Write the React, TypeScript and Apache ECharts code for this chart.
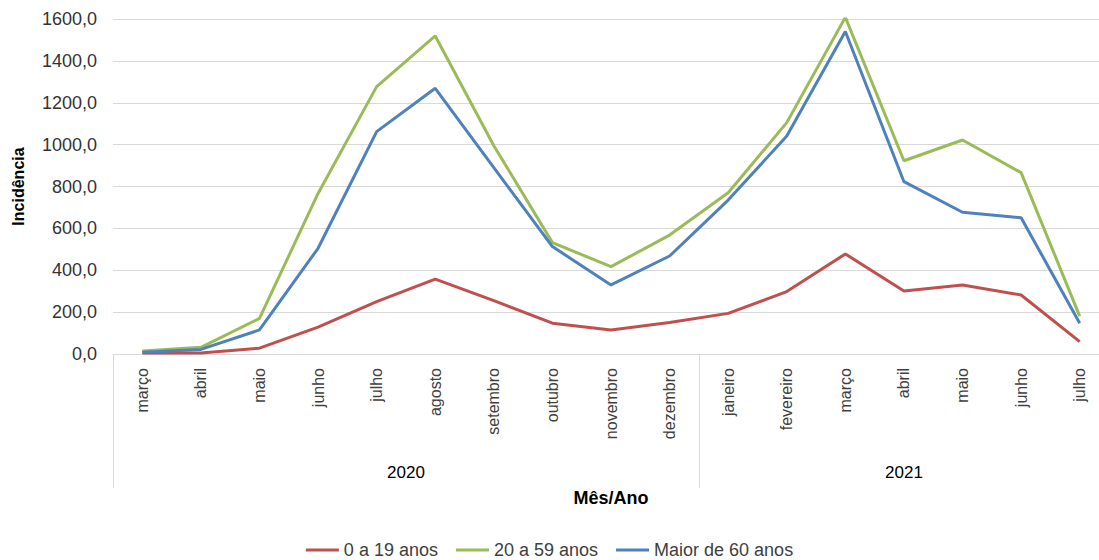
import React, { useEffect, useRef } from "react";
import * as echarts from "echarts";

const months = [
  "março", "abril", "maio", "junho", "julho", "agosto", "setembro", "outubro",
  "novembro", "dezembro", "janeiro", "fevereiro", "março", "abril", "maio", "junho", "julho",
];
const years = [
  { label: "2020", from: 0, to: 9 },
  { label: "2021", from: 10, to: 16 },
];
const seriesNames = ["0 a 19 anos", "20 a 59 anos", "Maior de 60 anos"];
const age0to19 = [5, 5, 28, 128, 250, 358, 255, 147, 115, 150, 194, 298, 478, 301, 330, 282, 59];
const age20to59 = [14, 32, 170, 767, 1277, 1519, 995, 532, 417, 568, 770, 1105, 1608, 923, 1022, 866, 181];
const age60plus = [8, 22, 115, 505, 1062, 1269, 890, 513, 330, 468, 735, 1041, 1540, 823, 677, 651, 147];
const colors = ["#C0504D", "#9BBB59", "#4F81BD"];

const FONT = "'Liberation Sans', Arial, sans-serif";

export default function App() {
  const ref = useRef<HTMLDivElement>(null);
  useEffect(() => {
    if (!ref.current) return;
    const chart = echarts.init(ref.current, null, { renderer: "svg" });
    const data = [age0to19, age20to59, age60plus];
    chart.setOption({
      animation: false,
      color: colors,
      textStyle: { fontFamily: FONT },
      grid: {
        left: 113,
        right: -10,
        top: 19,
        bottom: 206,
        containLabel: false,
        outerBoundsMode: "none",
      },
      legend: {
        bottom: -4,
        left: "center",
        icon: "rect",
        itemWidth: 33,
        itemHeight: 3,
        itemGap: 18,
        textStyle: { fontFamily: FONT, fontSize: 18, color: "#404040" },
        data: seriesNames,
      },
      xAxis: {
        type: "category",
        data: months,
        boundaryGap: true,
        name: "Mês/Ano",
        nameLocation: "middle",
        nameGap: 135,
        nameTextStyle: { fontFamily: FONT, fontSize: 18, fontWeight: "bold", color: "#000" },
        axisLine: { show: true, lineStyle: { color: "#D9D9D9", width: 1 } },
        axisTick: {
          show: true,
          interval: (i: number) => i === 0 || i === 10,
          length: 134,
          lineStyle: { color: "#D9D9D9", width: 1 },
        },
        axisLabel: {
          rotate: 90,
          interval: 0,
          margin: 14,
          fontFamily: FONT,
          fontSize: 16,
          color: "#404040",
        },
      },
      yAxis: {
        type: "value",
        min: 0,
        max: 1600,
        interval: 200,
        name: "Incidência",
        nameLocation: "middle",
        nameGap: 87,
        nameTextStyle: { fontFamily: FONT, fontSize: 16, fontWeight: "bold", color: "#000" },
        axisLine: { show: false },
        axisTick: { show: false },
        splitLine: { lineStyle: { color: "#D9D9D9", width: 1 } },
        axisLabel: {
          margin: 16,
          fontFamily: FONT,
          fontSize: 18,
          color: "#333",
          formatter: (v: number) => v.toFixed(1).replace(".", ","),
        },
      },
      series: seriesNames.map((name, k) => ({
        name,
        type: "line",
        data: data[k],
        symbol: "none",
        lineStyle: { width: 3, color: colors[k] },
        itemStyle: { color: colors[k] },
      })),
    });
    const px = (i: number) => chart.convertToPixel({ xAxisIndex: 0 }, i) as number;
    const y0 = chart.convertToPixel({ yAxisIndex: 0 }, 0) as number;
    chart.setOption({
      graphic: years.map((yr) => ({
        type: "text",
        x: (px(yr.from) + px(yr.to)) / 2,
        y: y0 + 118,
        style: {
          text: yr.label,
          fontFamily: FONT,
          fontSize: 17,
          fill: "#000",
          align: "center",
          verticalAlign: "middle",
        },
      })),
    });
    return () => chart.dispose();
  }, []);
  return (
    <div
      ref={ref}
      style={{ position: "absolute", left: 0, top: 0, width: 1099, height: 560 }}
    />
  );
}
